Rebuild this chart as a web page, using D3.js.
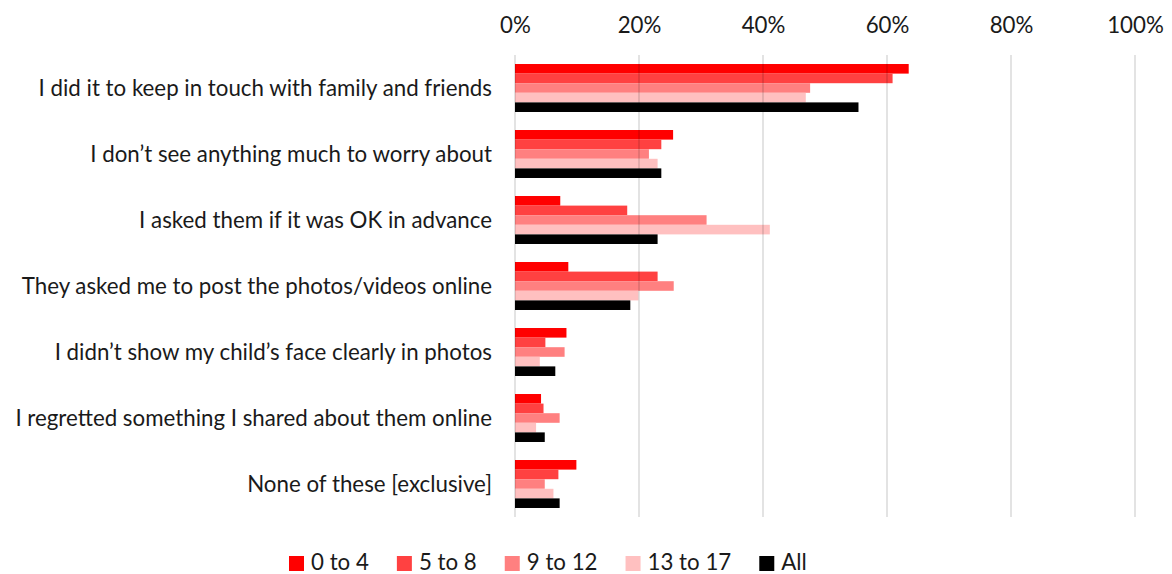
<!DOCTYPE html>
<html><head><meta charset="utf-8">
<script src="https://cdn.jsdelivr.net/npm/d3@7"></script>
<style>
html,body{margin:0;padding:0;background:#fff;}
svg{display:block;font-family:Lato, sans-serif;}
</style></head>
<body><svg id="c" width="1172" height="574"></svg>
<script>
const categories = [
  "I did it to keep in touch with family and friends",
  "I don\u2019t see anything much to worry about",
  "I asked them if it was OK in advance",
  "They asked me to post the photos/videos online",
  "I didn\u2019t show my child\u2019s face clearly in photos",
  "I regretted something I shared about them online",
  "None of these [exclusive]"
];
const seriesNames = ["0 to 4", "5 to 8", "9 to 12", "13 to 17", "All"];
const seriesColors = ["#FF0000", "#FF4141", "#FF8080", "#FFC0C0", "#000000"];
const age0to4   = [63.5, 25.5, 7.3, 8.6, 8.3, 4.2, 9.9];
const age5to8   = [60.9, 23.6, 18.1, 23.0, 4.9, 4.6, 7.0];
const age9to12  = [47.6, 21.6, 30.9, 25.6, 8.0, 7.2, 4.8];
const age13to17 = [46.9, 23.0, 41.1, 19.9, 4.0, 3.4, 6.2];
const ageAll    = [55.4, 23.6, 23.0, 18.6, 6.5, 4.8, 7.2];
const tickValues = [0, 20, 40, 60, 80, 100];
const tickLabels = ["0%", "20%", "40%", "60%", "80%", "100%"];

const seriesValues = [age0to4, age5to8, age9to12, age13to17, ageAll];
const svg = d3.select("#c");
const x = d3.scaleLinear().domain([0, 100]).range([515, 1135]);
const y = d3.scaleBand().domain(categories).range([55, 517]).paddingInner(0.273).paddingOuter(0.1365);
const ys = d3.scaleBand().domain(seriesNames).range([0, y.bandwidth()]);
const textColor = "#1a1a1a";
const FONT = "Lato, sans-serif";
const fs = 22.3;

// bars
seriesNames.forEach((s, si) => {
  svg.append("g").selectAll("rect").data(categories).join("rect")
    .attr("x", x(0))
    .attr("y", c => y(c) + ys(s))
    .attr("width", (c, i) => x(seriesValues[si][i]) - x(0))
    .attr("height", ys.bandwidth())
    .attr("fill", seriesColors[si]);
});

// top axis labels
const axisTop = d3.axisTop(x).tickValues(tickValues).tickFormat((d, i) => tickLabels[i]).tickSize(0).tickPadding(0);
const ag = svg.append("g").attr("transform", "translate(0,32.5)").call(axisTop);
ag.select(".domain").remove();
ag.selectAll("text").attr("font-size", fs).attr("fill", textColor).attr("font-family", FONT).attr("dy", 0);

// gridlines (on top, translucent)
svg.append("g").selectAll("line").data(tickValues).join("line")
  .attr("x1", d => x(d)).attr("x2", d => x(d))
  .attr("y1", 55).attr("y2", 517)
  .attr("stroke", "rgba(0,0,0,0.15)").attr("stroke-width", 1.5);

// category labels
const axisLeft = d3.axisLeft(y).tickSize(0).tickPadding(0);
const lg = svg.append("g").attr("transform", "translate(492,0)").call(axisLeft);
lg.select(".domain").remove();
lg.selectAll("text").attr("font-size", fs).attr("fill", textColor).attr("font-family", FONT).attr("dy", "0.34em");

// legend
const leg = svg.append("g");
let lx = 289;
seriesNames.forEach((s, i) => {
  leg.append("rect").attr("x", lx).attr("y", 556).attr("width", 15).attr("height", 15).attr("fill", seriesColors[i]);
  const t = leg.append("text").attr("x", lx + 22).attr("y", 569.5).attr("font-size", fs).attr("font-family", FONT).attr("fill", textColor).text(s);
  lx += 22 + t.node().getComputedTextLength() + 28;
});
</script></body></html>
